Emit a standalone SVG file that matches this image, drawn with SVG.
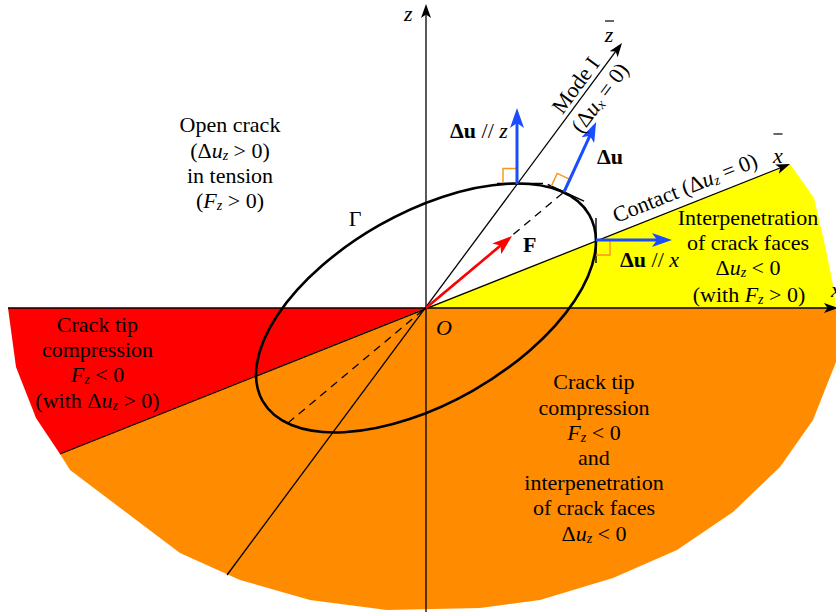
<svg xmlns="http://www.w3.org/2000/svg" width="836" height="612" viewBox="0 0 836 612">
<defs>
<style>
text{font-family:"Liberation Serif","Times New Roman",serif;font-size:22px;fill:#000}
.c{text-anchor:middle}
.i{font-style:italic}
.b{font-weight:bold}
.s{font-style:italic;font-size:14px}
.ax{stroke:#000;stroke-width:1.3;fill:none}
.blue{stroke:#1a4dff;stroke-width:3;fill:none}
.ra{stroke:#f7941d;stroke-width:1.4;fill:none}
.tan{stroke:#000;stroke-width:1.4;fill:none}
</style>
<marker id="ak" markerUnits="userSpaceOnUse" viewBox="0 0 14 10" markerWidth="14" markerHeight="10" refX="10" refY="5" orient="auto"><path d="M0,0 L14,5 L0,10 L3.5,5 Z" fill="#000"/></marker>
<marker id="ab" markerUnits="userSpaceOnUse" viewBox="0 0 20 14" markerWidth="20" markerHeight="14" refX="12" refY="7" orient="auto"><path d="M0,0 L20,7 L0,14 L5,7 Z" fill="#1a4dff"/></marker>
<marker id="ar" markerUnits="userSpaceOnUse" viewBox="0 0 20 14" markerWidth="20" markerHeight="14" refX="12" refY="7" orient="auto"><path d="M0,0 L20,7 L0,14 L5,7 Z" fill="#ff0000"/></marker>
</defs>

<g id="regions">
<polygon id="yellow" points="426,308 790,164 814,198 826,250 834,290 836,308" fill="#ffff00"/>
<polygon id="red" points="8,308 426,308 60,454 36,418 16,367" fill="#ff0000"/>
<polygon id="orange" points="426,308 836,308 836,362 813,420 780,467 733,512 677,550 613,578 540,600 480,608 387,610 310,600 240,580 180,553 70,470 60,454" fill="#ff8c00"/>
</g>

<g id="connectors">
<line class="ax" x1="426" y1="612" x2="426" y2="8" marker-end="url(#ak)"/>
<line class="ax" x1="8" y1="308" x2="834" y2="308" marker-end="url(#ak)"/>
<line class="ax" x1="227" y1="575" x2="619.6" y2="46.2" marker-end="url(#ak)"/>
<line class="ax" x1="60" y1="454" x2="786.3" y2="165.5" marker-end="url(#ak)"/>
<line class="ax" x1="288" y1="423" x2="564" y2="192" stroke-dasharray="8,6"/>
</g>

<g id="ellipse-gamma">
<ellipse cx="426" cy="308" rx="188" ry="95" transform="rotate(-29.7 426 308)" fill="none" stroke="#000" stroke-width="2.6"/>
<line class="tan" x1="497" y1="183.5" x2="543" y2="183.5"/>
<line class="tan" x1="547.7" y1="184.5" x2="584" y2="201.2"/>
<line class="tan" x1="596" y1="218" x2="596" y2="263"/>
</g>

<g id="right-angles">
<polyline class="ra" points="503,183 503,168.5 517,168.5"/>
<polyline class="ra" points="551.3,186.1 557.2,173.4 569.9,179.3"/>
<polyline class="ra" points="596,255 610,255 610,241"/>
</g>

<g id="vectors">
<line id="F" x1="426" y1="308" x2="505.9" y2="241.1" stroke="#ff0000" stroke-width="2.6" marker-end="url(#ar)"/>
<line id="du-z" class="blue" x1="517" y1="184" x2="517" y2="116" marker-end="url(#ab)"/>
<line id="du" class="blue" x1="564" y1="192" x2="592.8" y2="129.3" marker-end="url(#ab)"/>
<line id="du-x" class="blue" x1="596" y1="240" x2="664" y2="240" marker-end="url(#ab)"/>
</g>

<g id="axis-labels">
<text class="i" x="404" y="21" font-size="20">z</text>
<text class="i" x="831" y="297" font-size="20">x</text>
<text class="i c" x="609" y="42" font-size="20">z</text>
<line x1="605" y1="21" x2="614" y2="21" stroke="#000" stroke-width="1.2"/>
<text class="i c" x="778" y="163" font-size="20">x</text>
<line x1="773.5" y1="134" x2="782.5" y2="134" stroke="#000" stroke-width="1.2"/>
<text class="i" x="436" y="335" font-size="21">O</text>
<text class="c" x="355" y="226">Γ</text>
<text class="b" x="523" y="252">F</text>
</g>

<g id="vector-labels">
<text x="450" y="138"><tspan class="b">Δu</tspan> // <tspan class="i">z</tspan></text>
<text class="b" x="597" y="164">Δu</text>
<text x="620" y="267"><tspan class="b">Δu</tspan> // <tspan class="i">x</tspan></text>
</g>

<g id="line-labels">
<text class="c" transform="translate(585.5,92.5) rotate(-53.5)" x="0" y="-5">Mode I</text>
<text class="c" transform="translate(588,89) rotate(-53.5)" x="0" y="22">(Δ<tspan class="i">u</tspan><tspan class="s" dy="2">x</tspan><tspan dy="-2"> = 0)</tspan></text>
<text class="c" transform="translate(691,203) rotate(-21.6)" x="0" y="-9">Contact (Δ<tspan class="i">u</tspan><tspan class="s" dy="2">z</tspan><tspan dy="-2"> = 0)</tspan></text>
</g>

<g id="open-crack">
<text class="c" x="230" y="132">Open crack</text>
<text class="c" x="230" y="158">(Δ<tspan class="i">u</tspan><tspan class="s" dy="2">z</tspan><tspan dy="-2"> &gt; 0)</tspan></text>
<text class="c" x="230" y="183">in tension</text>
<text class="c" x="230" y="208">(<tspan class="i">F</tspan><tspan class="s" dy="2">z</tspan><tspan dy="-2"> &gt; 0)</tspan></text>
</g>

<g id="interpenetration">
<text class="c" x="748" y="225">Interpenetration</text>
<text class="c" x="748" y="250">of crack faces</text>
<text class="c" x="748" y="275">Δ<tspan class="i">u</tspan><tspan class="s" dy="2">z</tspan><tspan dy="-2"> &lt; 0</tspan></text>
<text class="c" x="749" y="302">(with <tspan class="i">F</tspan><tspan class="s" dy="2">z</tspan><tspan dy="-2"> &gt; 0)</tspan></text>
</g>

<g id="tip-compression">
<text class="c" x="97.5" y="332">Crack tip</text>
<text class="c" x="97.5" y="357">compression</text>
<text class="c" x="97.5" y="382"><tspan class="i">F</tspan><tspan class="s" dy="2">z</tspan><tspan dy="-2"> &lt; 0</tspan></text>
<text class="c" x="97.5" y="408">(with Δ<tspan class="i">u</tspan><tspan class="s" dy="2">z</tspan><tspan dy="-2"> &gt; 0)</tspan></text>
</g>

<g id="compression-interpenetration">
<text class="c" x="594" y="389">Crack tip</text>
<text class="c" x="594" y="415">compression</text>
<text class="c" x="594" y="440"><tspan class="i">F</tspan><tspan class="s" dy="2">z</tspan><tspan dy="-2"> &lt; 0</tspan></text>
<text class="c" x="594" y="465">and</text>
<text class="c" x="594" y="490">interpenetration</text>
<text class="c" x="594" y="515">of crack faces</text>
<text class="c" x="594" y="541">Δ<tspan class="i">u</tspan><tspan class="s" dy="2">z</tspan><tspan dy="-2"> &lt; 0</tspan></text>
</g>
</svg>
